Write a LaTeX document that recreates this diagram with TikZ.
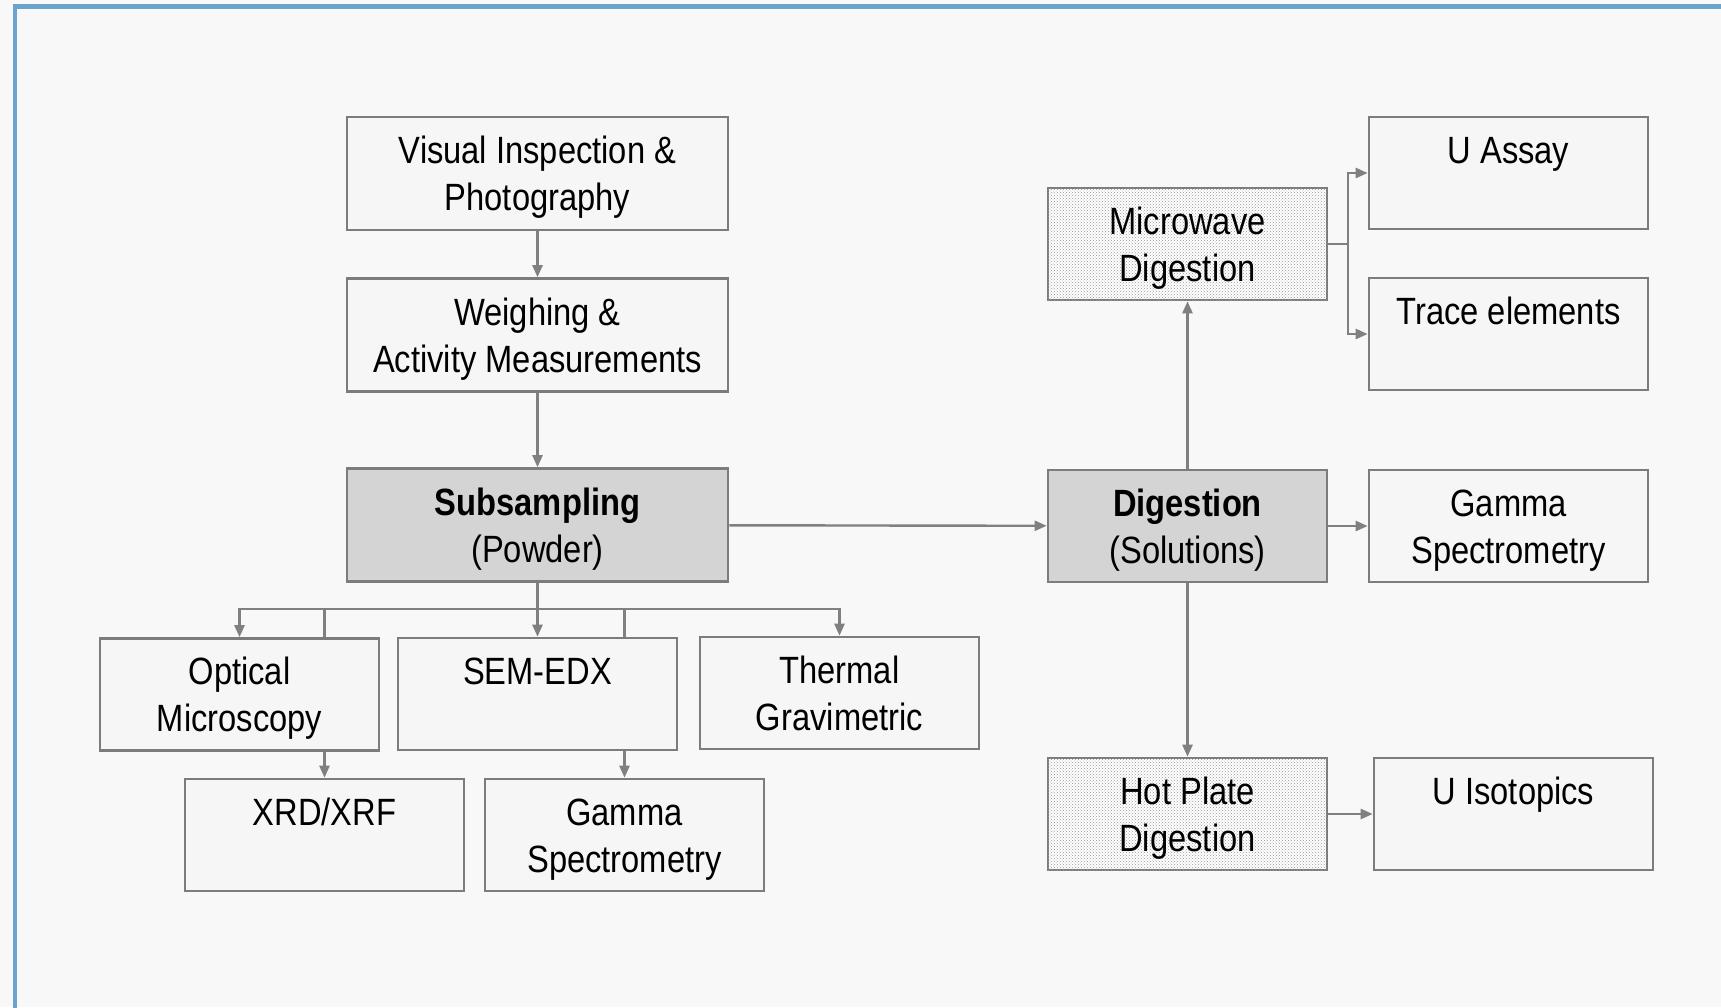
\documentclass[tikz,border=0pt]{standalone}
\usepackage{fontspec}
\setmainfont{Liberation Sans}[FakeStretch=0.86]
\usetikzlibrary{arrows.meta,patterns,backgrounds}
\definecolor{frameBlue}{HTML}{6AA3CC}
\definecolor{pageGrey}{HTML}{F8F8F8}
\definecolor{boxLine}{HTML}{7C7C7C}
\definecolor{boxFill}{HTML}{F6F6F6}
\definecolor{keyFill}{HTML}{D4D4D4}
\definecolor{linkGrey}{HTML}{808080}
% two text lines with fixed top and bottom room
\newcommand\boxlines[2]{\rule{0pt}{35pt}#1\\#2\rule[-8pt]{0pt}{8pt}}

\begin{document}
\begin{tikzpicture}[x=1pt,y=-1pt,>={Triangle[length=12pt,width=10pt]}]
\useasboundingbox (0,0) rectangle (1721,1007);
\tikzset{box/.style={draw=boxLine,fill=boxFill,line width=2.6pt,inner sep=0pt,align=center,font=\fontsize{38}{47}\selectfont},
  wide/.style={box,minimum width=381pt,minimum height=113pt},
  narrow/.style={box,minimum width=279pt,minimum height=112pt},
  keybox/.style={fill=keyFill},
  stipple/.style={fill=white,postaction={pattern=crosshatch dots,pattern color=black!40}},
  link/.style={draw=linkGrey,line width=2.4pt,->}}
% sample route on the left
\node[wide] (vis) at (537.5,173.5) {\boxlines{Visual Inspection \&}{Photography}};
\node[wide] (weigh) at (537.5,335) {\boxlines{Weighing \&}{Activity Measurements}};
\node[wide,keybox] (sub) at (537.5,525) {\boxlines{\textbf{Subsampling}}{(Powder)}};
\node[narrow] (opt) at (239.5,694.5) {\boxlines{Optical}{Microscopy}};
\node[narrow] (sem) at (537.5,694) {\boxlines{SEM-EDX}{}};
\node[narrow] (therm) at (839.5,693) {\boxlines{Thermal}{Gravimetric}};
\node[narrow] (xrd) at (324.5,835) {\boxlines{XRD/XRF}{}};
\node[narrow] (gamL) at (624.5,835) {\boxlines{Gamma}{Spectrometry}};
% solution route on the right
\node[narrow,stipple] (micro) at (1187.5,244) {\boxlines{Microwave}{Digestion}};
\node[narrow] (uassay) at (1508.5,173) {\boxlines{U Assay}{}};
\node[narrow] (trace) at (1508.5,334) {\boxlines{Trace elements}{}};
\node[narrow,keybox] (dig) at (1187.5,526) {\boxlines{\textbf{Digestion}}{(Solutions)}};
\node[narrow] (gamR) at (1508.5,526) {\boxlines{Gamma}{Spectrometry}};
\node[narrow,stipple] (hot) at (1187.5,814) {\boxlines{Hot Plate}{Digestion}};
\node[narrow] (uiso) at (1513.5,814) {\boxlines{U Isotopics}{}};
\coordinate (bus) at (537.5,609);
\coordinate (split) at (1348,244);
\begin{pgfonlayer}{background}
\path[fill=pageGrey] (0,0) rectangle (1721,1007);
\draw[frameBlue,line width=4.6pt] (15,1010) -- (15,6.7) -- (1725,6.7);
\draw[link] (vis) -- (weigh); \draw[link] (weigh) -- (sub);
\draw[link] (sub.south) |- (opt.north |- bus) -- (opt.north);
\draw[link] (sub.south) -- (sem.north);
\draw[link] (sub.south) |- (therm.north |- bus) -- (therm.north);
\draw[link] (sub.south) |- (xrd.north |- bus) -- (xrd.north);
\draw[link] (sub.south) |- (gamL.north |- bus) -- (gamL.north);
\draw[link] (sub) -- (dig);
\draw[link] (dig) -- (micro); \draw[link] (dig) -- (hot); \draw[link] (dig) -- (gamR);
\draw[link] (micro.east) -- (split) |- (uassay.west); \draw[link] (split) |- (trace.west);
\draw[link] (hot) -- (uiso);
\end{pgfonlayer}
\end{tikzpicture}
\end{document}
